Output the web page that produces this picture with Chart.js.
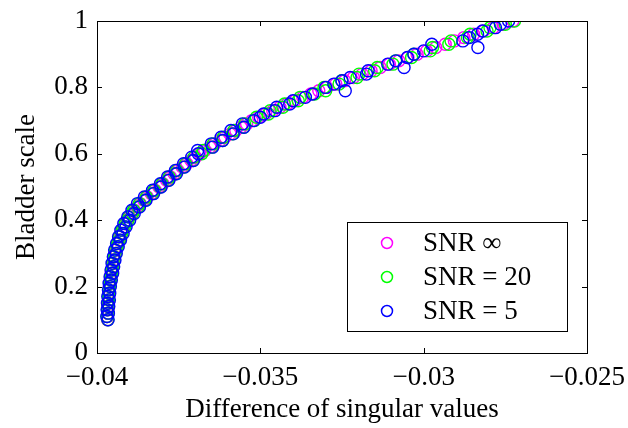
<!DOCTYPE html>
<html>
<head>
<meta charset="utf-8">
<script src="https://cdn.jsdelivr.net/npm/chart.js@4"></script>
<style>
  html, body { margin: 0; background: #fff; }
</style>
</head>
<body>
<canvas id="chart" width="628" height="428"></canvas>
<script>
// bladder scale (y) for every sample
const bladderScale = [
  0.10, 0.11, 0.12, 0.13, 0.14, 0.15, 0.16, 0.17, 0.18, 0.19,
  0.20, 0.21, 0.22, 0.23, 0.24, 0.25, 0.26, 0.27, 0.28, 0.29,
  0.30, 0.31, 0.32, 0.33, 0.34, 0.35, 0.36, 0.37, 0.38, 0.39,
  0.40, 0.41, 0.42, 0.43, 0.44, 0.45, 0.46, 0.47, 0.48, 0.49,
  0.50, 0.51, 0.52, 0.53, 0.54, 0.55, 0.56, 0.57, 0.58, 0.59,
  0.60, 0.61, 0.62, 0.63, 0.64, 0.65, 0.66, 0.67, 0.68, 0.69,
  0.70, 0.71, 0.72, 0.73, 0.74, 0.75, 0.76, 0.77, 0.78, 0.79,
  0.80, 0.81, 0.82, 0.83, 0.84, 0.85, 0.86, 0.87, 0.88, 0.89,
  0.90, 0.91, 0.92, 0.93, 0.94, 0.95, 0.96, 0.97, 0.98, 0.99,
  1.00
];
// difference of singular values (x) per noise level
const diffSnrInf = [
  -0.03968, -0.03968, -0.03967, -0.03967, -0.03966, -0.03966, -0.03965, -0.03964, -0.03964, -0.03963,
  -0.03962, -0.03960, -0.03959, -0.03957, -0.03956, -0.03954, -0.03952, -0.03950, -0.03949, -0.03947,
  -0.03945, -0.03942, -0.03939, -0.03936, -0.03933, -0.03930, -0.03926, -0.03922, -0.03917, -0.03913,
  -0.03908, -0.03901, -0.03894, -0.03886, -0.03877, -0.03868, -0.03857, -0.03846, -0.03834, -0.03822,
  -0.03810, -0.03798, -0.03787, -0.03775, -0.03764, -0.03752, -0.03739, -0.03725, -0.03712, -0.03698,
  -0.03685, -0.03670, -0.03654, -0.03639, -0.03623, -0.03608, -0.03592, -0.03575, -0.03559, -0.03542,
  -0.03526, -0.03505, -0.03484, -0.03462, -0.03440, -0.03418, -0.03394, -0.03370, -0.03345, -0.03321,
  -0.03296, -0.03269, -0.03242, -0.03215, -0.03188, -0.03161, -0.03133, -0.03105, -0.03076, -0.03048,
  -0.03020, -0.02991, -0.02963, -0.02934, -0.02906, -0.02877, -0.02847, -0.02817, -0.02787, -0.02757,
  -0.02727
];
const diffSnr20 = [
  -0.03967, -0.03969, -0.03966, -0.03968, -0.03965, -0.03967, -0.03964, -0.03965, -0.03963, -0.03964,
  -0.03961, -0.03961, -0.03958, -0.03958, -0.03954, -0.03955, -0.03951, -0.03952, -0.03947, -0.03948,
  -0.03943, -0.03944, -0.03938, -0.03937, -0.03931, -0.03932, -0.03924, -0.03923, -0.03915, -0.03914,
  -0.03905, -0.03903, -0.03891, -0.03888, -0.03874, -0.03870, -0.03853, -0.03849, -0.03830, -0.03825,
  -0.03806, -0.03801, -0.03782, -0.03779, -0.03759, -0.03756, -0.03734, -0.03729, -0.03706, -0.03703,
  -0.03679, -0.03675, -0.03648, -0.03644, -0.03616, -0.03613, -0.03585, -0.03581, -0.03551, -0.03548,
  -0.03518, -0.03512, -0.03475, -0.03470, -0.03431, -0.03426, -0.03384, -0.03378, -0.03334, -0.03300,
  -0.03305, -0.03259, -0.03251, -0.03204, -0.03198, -0.03150, -0.03142, -0.03094, -0.03086, -0.03037,
  -0.03030, -0.02980, -0.02973, -0.02923, -0.02916, -0.02866, -0.02858, -0.02806, -0.02797, -0.02750,
  -0.02722
];
const diffSnr5 = [
  -0.03966, -0.03970, -0.03965, -0.03969, -0.03964, -0.03968, -0.03962, -0.03967, -0.03961, -0.03965,
  -0.03959, -0.03963, -0.03956, -0.03960, -0.03952, -0.03957, -0.03949, -0.03954, -0.03945, -0.03950,
  -0.03941, -0.03946, -0.03935, -0.03940, -0.03928, -0.03934, -0.03920, -0.03927, -0.03911, -0.03918,
  -0.03900, -0.03906, -0.03886, -0.03893, -0.03870, -0.03876, -0.03850, -0.03855, -0.03827, -0.03830,
  -0.03804, -0.03806, -0.03780, -0.03784, -0.03757, -0.03760, -0.03732, -0.03735, -0.03705, -0.03710,
  -0.03690, -0.03692, -0.03646, -0.03650, -0.03615, -0.03620, -0.03583, -0.03590, -0.03550, -0.03555,
  -0.03520, -0.03500, -0.03490, -0.03455, -0.03450, -0.03410, -0.03400, -0.03362, -0.03340, -0.03240,
  -0.03300, -0.03275, -0.03250, -0.03225, -0.03175, -0.03170, -0.03060, -0.03110, -0.03085, -0.03050,
  -0.03030, -0.03000, -0.02834, -0.02975, -0.02880, -0.02860, -0.02835, -0.02820, -0.02780, -0.02765,
  -0.02740
];
const seriesLabels = ['SNR \u221e', 'SNR = 20', 'SNR = 5'];
const seriesColors = ['#ff00ff', '#00ff00', '#0000ff'];
const xTicks = [-0.04, -0.035, -0.03, -0.025];
const yTicks = [0, 0.2, 0.4, 0.6, 0.8, 1];

const FONT = "'Liberation Serif', 'DejaVu Serif', serif";
const FONT_SIZE = 27;
const toPoints = xs => xs.map((x, i) => ({ x: x, y: bladderScale[i] }));
const minusLabel = v => (v < 0 ? '\u2212' : '') + String(Math.abs(v));

// MATLAB style box with inward ticks, plus the boxed legend inside the axes
const boxPlugin = {
  id: 'box',
  afterDraw(chart) {
    const { ctx, chartArea: a, scales } = chart;
    ctx.save();
    ctx.strokeStyle = '#000';
    ctx.lineWidth = 1;
    ctx.strokeRect(a.left + 0.5, a.top + 0.5, a.right - a.left, a.bottom - a.top);
    ctx.beginPath();
    for (const v of xTicks) {
      const px = Math.round(scales.x.getPixelForValue(v)) + 0.5;
      ctx.moveTo(px, a.bottom); ctx.lineTo(px, a.bottom - 5);
      ctx.moveTo(px, a.top); ctx.lineTo(px, a.top + 5);
    }
    for (const v of yTicks) {
      const py = Math.round(scales.y.getPixelForValue(v)) + 0.5;
      ctx.moveTo(a.left, py); ctx.lineTo(a.left + 5, py);
      ctx.moveTo(a.right, py); ctx.lineTo(a.right - 5, py);
    }
    ctx.stroke();

    // legend
    const lw = 220, lh = 109;
    const lx = a.right - 20 - lw, ly = a.bottom - 22 - lh;
    ctx.fillStyle = '#fff';
    ctx.fillRect(lx, ly, lw, lh);
    ctx.strokeStyle = '#000';
    ctx.strokeRect(lx + 0.5, ly + 0.5, lw, lh);
    ctx.font = FONT_SIZE + 'px ' + FONT;
    ctx.textBaseline = 'middle';
    ctx.textAlign = 'left';
    seriesLabels.forEach((lab, i) => {
      const cy = ly + 21 + i * 34;
      ctx.beginPath();
      ctx.arc(lx + 40, cy, 5.5, 0, Math.PI * 2);
      ctx.strokeStyle = seriesColors[i];
      ctx.lineWidth = 1.5;
      ctx.stroke();
      ctx.fillStyle = '#000';
      ctx.fillText(lab, lx + 76, cy + 1);
    });
    ctx.restore();
  }
};

const datasets = [diffSnrInf, diffSnr20, diffSnr5].map((xs, i) => ({
  label: seriesLabels[i],
  data: toPoints(xs),
  borderColor: seriesColors[i],
  backgroundColor: 'rgba(0,0,0,0)',
  pointRadius: 6,
  pointBorderWidth: 1.4,
  pointHoverRadius: 6,
  order: 3 - i
}));

new Chart(document.getElementById('chart'), {
  type: 'scatter',
  data: { datasets },
  options: {
    responsive: false,
    devicePixelRatio: 1,
    animation: false,
    layout: { padding: { top: 21, right: 41, bottom: 0, left: 0 } },
    plugins: { legend: { display: false }, tooltip: { enabled: false } },
    scales: {
      x: {
        type: 'linear', min: -0.04, max: -0.025,
        grid: { display: false, drawTicks: false },
        border: { display: false },
        afterBuildTicks: s => { s.ticks = xTicks.map(v => ({ value: v })); },
        afterFit: s => { s.height = 75; s.paddingLeft = 0; s.paddingRight = 0; },
        ticks: { padding: 9, color: '#000', font: { family: FONT, size: FONT_SIZE }, callback: minusLabel, maxRotation: 0 },
        title: { display: true, text: 'Difference of singular values', color: '#000',
                 font: { family: FONT, size: FONT_SIZE }, padding: { top: 0, bottom: 2 } }
      },
      y: {
        type: 'linear', min: 0, max: 1,
        grid: { display: false, drawTicks: false },
        border: { display: false },
        afterBuildTicks: s => { s.ticks = yTicks.map(v => ({ value: v })); },
        afterFit: s => { s.width = 97; s.paddingTop = 0; s.paddingBottom = 0; },
        ticks: { padding: 9, color: '#000', font: { family: FONT, size: FONT_SIZE }, callback: v => String(v) },
        title: { display: true, text: 'Bladder scale', color: '#000',
                 font: { family: FONT, size: FONT_SIZE }, padding: { top: 11, bottom: 0 } }
      }
    }
  },
  plugins: [boxPlugin]
});
</script>
</body>
</html>
